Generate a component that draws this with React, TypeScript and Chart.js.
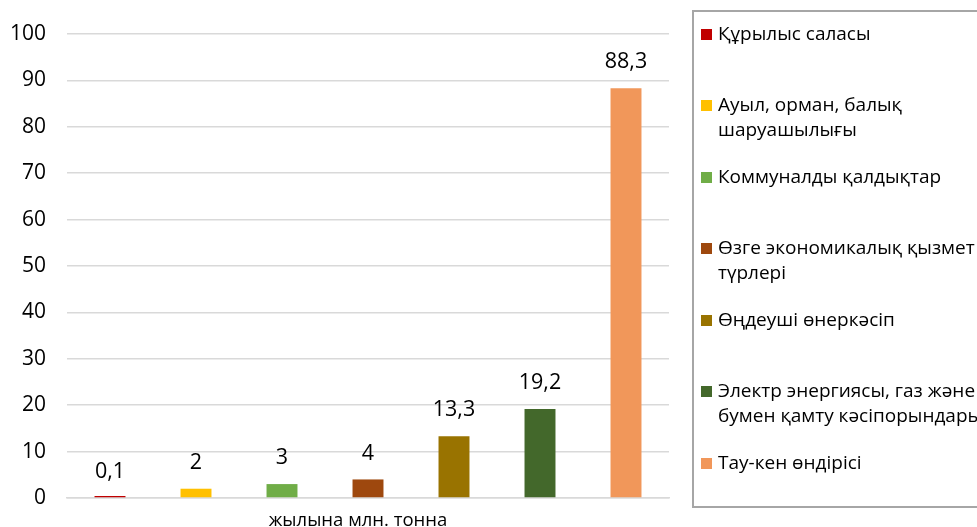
import { useEffect, useRef } from 'react';
import { Chart, registerables } from 'chart.js';

Chart.register(...registerables);

// Waste generation by sector, million tonnes per year
const categories = ['жылына млн. тонна'];
const seriesNames: string[][] = [
  ['Құрылыс саласы'],
  ['Ауыл, орман, балық', 'шаруашылығы'],
  ['Коммуналды қалдықтар'],
  ['Өзге экономикалық қызмет', 'түрлері'],
  ['Өңдеуші өнеркәсіп'],
  ['Электр энергиясы, газ және', 'бумен қамту кәсіпорындары'],
  ['Тау-кен өндірісі'],
];
const seriesValues = [0.1, 2, 3, 4, 13.3, 19.2, 88.3];
const seriesColors = ['#C00000', '#FFC000', '#70AD47', '#9E480E', '#997300', '#43682B', '#F1975A'];
const yMin = 0;
const yMax = 100;
const yStep = 10;

const FONT = "'Open Sans', 'Noto Sans', sans-serif";

const formatValue = (v: number) => String(v).replace('.', ',');

const valueLabels = {
  id: 'valueLabels',
  afterDatasetsDraw(chart: Chart) {
    const ctx = chart.ctx;
    ctx.save();
    ctx.font = `21.5px ${FONT}`;
    ctx.fillStyle = '#000';
    ctx.textAlign = 'center';
    ctx.textBaseline = 'middle';
    chart.data.datasets.forEach((ds, i) => {
      const meta = chart.getDatasetMeta(i);
      meta.data.forEach((bar: any, j: number) => {
        const v = ds.data[j] as number;
        const top = chart.scales.y.getPixelForValue(v);
        ctx.fillText(formatValue(v), bar.x, top - 26);
      });
    });
    ctx.restore();
  },
};

export default function App() {
  const canvasRef = useRef<HTMLCanvasElement | null>(null);

  useEffect(() => {
    if (!canvasRef.current) return;
    const chart = new Chart(canvasRef.current, {
      type: 'bar',
      data: {
        labels: categories,
        datasets: seriesValues.map((v, i) => ({
          label: seriesNames[i].join(' '),
          data: [v],
          backgroundColor: seriesColors[i],
          borderWidth: 0,
          categoryPercentage: 1,
          barPercentage: 0.36,
          minBarLength: 2,
        })),
      },
      options: {
        responsive: false,
        animation: false,
        layout: { padding: { top: 34, right: 308, bottom: 0, left: 0 } },
        plugins: {
          legend: { display: false },
          tooltip: { enabled: false },
        },
        scales: {
          x: {
            grid: { display: false, drawTicks: false },
            border: { display: true, color: '#d9d9d9', width: 1.5 },
            ticks: {
              color: '#000',
              font: { family: FONT, size: 18.5 },
              padding: 12,
              labelOffset: -10,
            },
            afterFit: (scale: any) => {
              scale.height = 29;
            },
          },
          y: {
            min: yMin,
            max: yMax,
            ticks: {
              stepSize: yStep,
              color: '#000',
              font: { family: FONT, size: 21 },
              padding: 0,
            },
            grid: {
              color: '#d9d9d9',
              lineWidth: 1.5,
              drawTicks: true,
              tickLength: 21,
              tickColor: 'rgba(0,0,0,0)',
            },
            border: { display: false },
            afterFit: (scale: any) => {
              scale.width = 67;
            },
          },
        },
      },
      plugins: [valueLabels],
    });
    return () => chart.destroy();
  }, []);

  return (
    <div
      style={{
        position: 'absolute',
        left: 0,
        top: 0,
        width: 977,
        height: 527,
        overflow: 'hidden',
        background: '#fff',
        fontFamily: FONT,
      }}
    >
      <canvas ref={canvasRef} width={977} height={527} style={{ display: 'block' }} />
      <div
        style={{
          position: 'absolute',
          left: 692,
          top: 10,
          width: 320,
          height: 494,
          border: '2px solid #A6A6A6',
          boxSizing: 'content-box',
        }}
      />
      {seriesNames.map((lines, i) => (
        <div
          key={i}
          style={{
            position: 'absolute',
            left: 701,
            top: 20.5 + i * 71.5,
            whiteSpace: 'nowrap',
            fontSize: 19,
            lineHeight: '25px',
            color: '#000',
          }}
        >
          <span
            style={{
              position: 'absolute',
              left: 0,
              top: 8,
              width: 11,
              height: 11,
              background: seriesColors[i],
            }}
          />
          <div style={{ marginLeft: 17 }}>
            {lines.map((t, k) => (
              <div key={k}>{t}</div>
            ))}
          </div>
        </div>
      ))}
    </div>
  );
}
